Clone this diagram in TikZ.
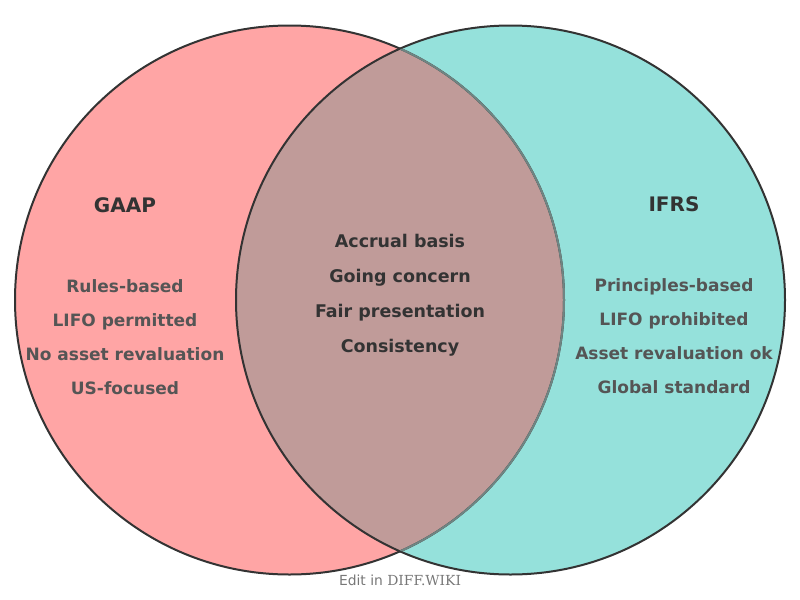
\documentclass[tikz,border=0pt]{standalone}
\usepackage{fontspec}
\setmainfont{DejaVu Sans}
\newfontfamily\footserif{DejaVu Serif}
\definecolor{pinkfill}{HTML}{FFA5A5}
\definecolor{tealfill}{HTML}{95E1DB}
\definecolor{mixfill}{HTML}{C09B99}
\definecolor{edge}{HTML}{333333}
\definecolor{hidedge}{HTML}{6F8583}
\definecolor{itemtext}{HTML}{555555}
\definecolor{headtext}{HTML}{333333}
\definecolor{foottext}{HTML}{777777}
\tikzset{
  heading/.style={anchor=base, font=\bfseries\fontsize{15}{18}\selectfont, text=headtext, inner sep=0pt},
  sideitem/.style={anchor=base, font=\bfseries\fontsize{12.75}{15}\selectfont, text=itemtext, inner sep=0pt},
  coreitem/.style={anchor=base, font=\bfseries\fontsize{13.1}{15}\selectfont, text=headtext, inner sep=0pt},
  footer/.style={anchor=base, font=\fontsize{10.4}{12}\selectfont, text=foottext, inner sep=0pt}
}
\begin{document}
\begin{tikzpicture}[x=0.75pt,y=-0.75pt]
\useasboundingbox (0,0) rectangle (800,600);
\def\R{274.5}
% fills
\fill[pinkfill] (289.5,300) circle (\R);
\fill[tealfill] (510.5,300) circle (\R);
\begin{scope}
  \clip (289.5,300) circle (\R);
  \fill[mixfill] (510.5,300) circle (\R);
\end{scope}
% outlines
\draw[edge, line width=1.5pt] (289.5,300) circle (\R);
\draw[edge, line width=1.5pt] (510.5,300) circle (\R);
\begin{scope}
  \clip (510.5,300) circle (\R-0.8);
  \draw[hidedge, line width=1.5pt] (289.5,300) circle (\R);
\end{scope}
% texts
\node[heading] (gaap) at (125,212.3) {GAAP};
\node[heading] (ifrs) at (674,211.3) {IFRS};
\node[sideitem] (g1) at (125,292.2) {Rules-based};
\node[sideitem] (g2) at (125,326.2) {LIFO permitted};
\node[sideitem] (g3) at (125,360.2) {No asset revaluation};
\node[sideitem] (g4) at (125,394.2) {US-focused};
\node[sideitem] (i1) at (674,291.2) {Principles-based};
\node[sideitem] (i2) at (674,325.2) {LIFO prohibited};
\node[sideitem] (i3) at (674,359.2) {Asset revaluation ok};
\node[sideitem] (i4) at (674,393.2) {Global standard};
\node[coreitem] (c1) at (400,247.4) {Accrual basis};
\node[coreitem] (c2) at (400,282.4) {Going concern};
\node[coreitem] (c3) at (400,317.4) {Fair presentation};
\node[coreitem] (c4) at (400,352.4) {Consistency};
\node[footer] (foot) at (400,585.5) {Edit in {\footserif DIFF.WIKI}};
\end{tikzpicture}
\end{document}
